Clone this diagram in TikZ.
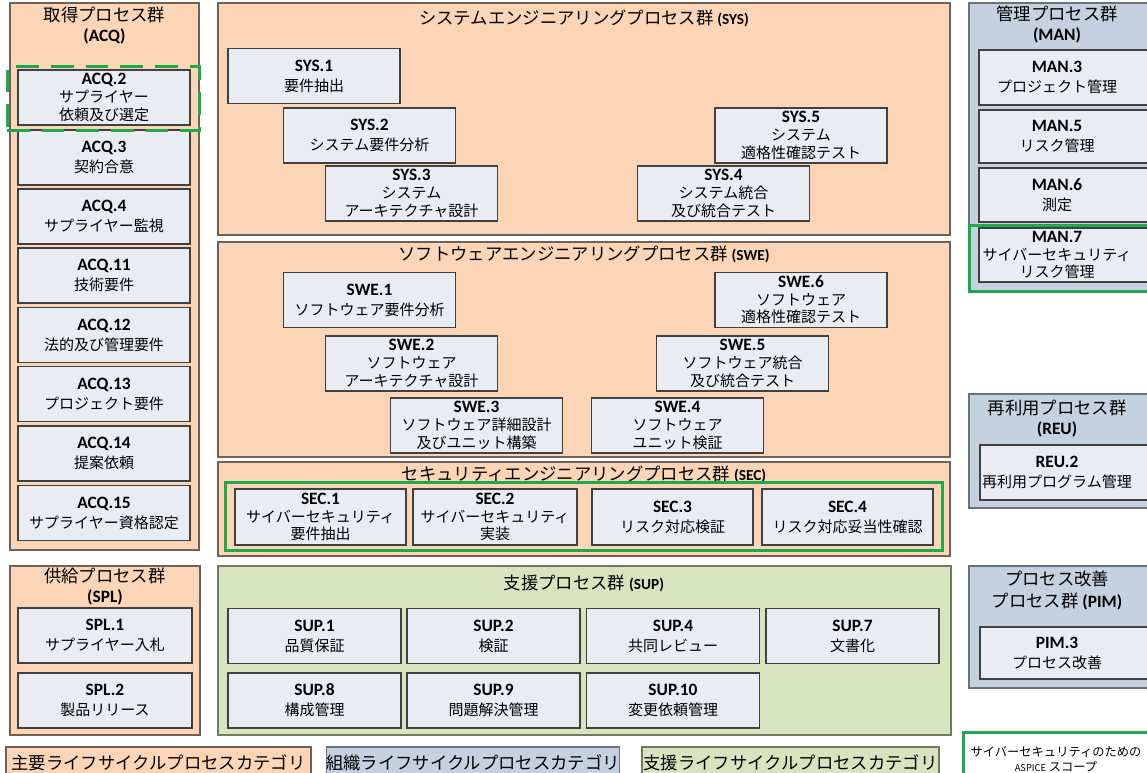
\documentclass[tikz,border=0pt]{standalone}
\usepackage{fontspec}
\setmainfont{Carlito}
\newfontfamily\jp{Noto Sans CJK JP}
\usetikzlibrary{fit}
\definecolor{peach}{HTML}{FBD5B5}
\definecolor{peachline}{HTML}{6F6158}
\definecolor{boxfill}{HTML}{E9EDF3}
\definecolor{boxline}{HTML}{404040}
\definecolor{steel}{HTML}{C4D1E1}
\definecolor{steelline}{HTML}{66737F}
\definecolor{sage}{HTML}{D8E4BE}
\definecolor{sageline}{HTML}{707A5E}
\definecolor{scope}{HTML}{1DAA4B}
\newcommand\code[1]{{\normalfont\bfseries\fontsize{13}{13}\selectfont #1}}
\newcommand\grpcode[1]{{\normalfont\bfseries\fontsize{11.5}{12}\selectfont #1}}

\begin{document}
\begin{tikzpicture}[x=0.75pt,y=-0.75pt,
	grp/.style={draw=peachline,fill=peach,line width=0.8pt,inner sep=0pt},
	orggrp/.style={grp,draw=steelline,fill=steel},
	supgrp/.style={grp,draw=sageline,fill=sage},
	proc/.style={draw=boxline,fill=boxfill,line width=0.9pt,inner sep=0pt,align=center,
		minimum width=172*0.75pt,minimum height=55*0.75pt,font=\fontsize{11.25}{15}\selectfont\jp},
	proc3/.style={proc,font=\fontsize{11.25}{13.2}\selectfont\jp},
	procr/.style={draw=boxline,fill=boxfill,line width=0.9pt,inner sep=0pt},
	txt/.style={inner sep=0pt,align=center,font=\fontsize{11.25}{15}\selectfont\jp},
	txt3/.style={txt,font=\fontsize{11.25}{13.2}\selectfont\jp},
	title/.style={inner sep=0pt,align=center,font=\fontsize{13}{15}\selectfont\jp},
	scopebox/.style={draw=scope,line width=2.25pt,inner sep=0pt},
	legend/.style={inner sep=0pt,line width=0.8pt,minimum height=31*0.75pt,font=\fontsize{13}{14}\selectfont\jp}]
	\useasboundingbox (0,0) rectangle (1147,773);

	% acquisition
	\node[grp,fit={(10,3)(199,550)}] (acq) {};
	\node[title] (acqt) at (104.5,26) {取得プロセス群\\\code{(ACQ)}};
	\node[proc3] (acq2) at (104,97.5) {\code{ACQ.2}\\サプライヤー\\依頼及び選定};
	\node[proc] (acq3) at (104,157.5) {\code{ACQ.3}\\契約合意};
	\node[proc] (acq4) at (104,216.5) {\code{ACQ.4}\\サプライヤー監視};
	\node[proc] (acq11) at (104,275.5) {\code{ACQ.11}\\技術要件};
	\node[proc] (acq12) at (104,335) {\code{ACQ.12}\\法的及び管理要件};
	\node[proc] (acq13) at (104,394) {\code{ACQ.13}\\プロジェクト要件};
	\node[proc] (acq14) at (104,453.5) {\code{ACQ.14}\\提案依頼};
	\node[proc] (acq15) at (104,513) {\code{ACQ.15}\\サプライヤー資格認定};
	\node[scopebox,dash pattern=on 17pt off 9pt,fit={(7,67)(199,131)}] (acqscope) {};

	% system engineering
	\node[grp,fit={(218,3)(950,235)}] (sys) {};
	\node[title] (syst) at (584,18) {システムエンジニアリングプロセス群 \grpcode{(SYS)}};
	\node[proc] (sys1) at (314,76) {\code{SYS.1}\\要件抽出};
	\node[proc] (sys2) at (369.5,135.5) {\code{SYS.2}\\システム要件分析};
	\node[proc3] (sys3) at (411.5,193.5) {\code{SYS.3}\\システム\\アーキテクチャ設計};
	\node[proc3] (sys4) at (723.5,193.5) {\code{SYS.4}\\システム統合\\及び統合テスト};
	\node[proc3] (sys5) at (801,135.5) {\code{SYS.5}\\システム\\適格性確認テスト};

	% software engineering
	\node[grp,fit={(218,242)(950,457)}] (swe) {};
	\node[title] (swet) at (584,254) {ソフトウェアエンジニアリングプロセス群 \grpcode{(SWE)}};
	\node[proc] (swe1) at (369.5,300) {\code{SWE.1}\\ソフトウェア要件分析};
	\node[proc3] (swe2) at (411.5,363.5) {\code{SWE.2}\\ソフトウェア\\アーキテクチャ設計};
	\node[proc3] (swe3) at (476.5,425.5) {\code{SWE.3}\\ソフトウェア詳細設計\\及びユニット構築};
	\node[proc3] (swe4) at (677.5,425.5) {\code{SWE.4}\\ソフトウェア\\ユニット検証};
	\node[proc3] (swe5) at (742.5,363.5) {\code{SWE.5}\\ソフトウェア統合\\及び統合テスト};
	\node[proc3] (swe6) at (801,300) {\code{SWE.6}\\ソフトウェア\\適格性確認テスト};

	% security engineering
	\node[grp,fit={(218,462)(950,556)}] (sec) {};
	\node[title] (sect) at (584,474) {セキュリティエンジニアリングプロセス群 \grpcode{(SEC)}};
	\node[scopebox,fit={(225,483)(942,551)}] (secscope) {};
	\node[proc3,minimum width=171*0.75pt,minimum height=56*0.75pt] (sec1) at (320.5,517) {\code{SEC.1}\\サイバーセキュリティ\\要件抽出};
	\node[proc3,minimum width=164*0.75pt,minimum height=56*0.75pt] (sec2) at (495,517) {\code{SEC.2}\\サイバーセキュリティ\\実装};
	\node[proc,minimum width=161*0.75pt,minimum height=56*0.75pt] (sec3) at (672.5,517) {\code{SEC.3}\\リスク対応検証};
	\node[proc,minimum width=171*0.75pt,minimum height=56*0.75pt] (sec4) at (847.5,517) {\code{SEC.4}\\リスク対応妥当性確認};

	% supply
	\node[grp,fit={(10,566)(200,735)}] (spl) {};
	\node[title] (splt) at (105,587) {供給プロセス群\\\code{(SPL)}};
	\node[proc,minimum width=174*0.75pt] (spl1) at (105,635.5) {\code{SPL.1}\\サプライヤー入札};
	\node[proc,minimum width=174*0.75pt] (spl2) at (105,700.5) {\code{SPL.2}\\製品リリース};

	% support
	\node[supgrp,fit={(218,566)(951,735)}] (sup) {};
	\node[title] (supt) at (584,583) {支援プロセス群 \grpcode{(SUP)}};
	\node[proc,minimum width=173*0.75pt] (sup1) at (314.5,636) {\code{SUP.1}\\品質保証};
	\node[proc,minimum width=173*0.75pt] (sup2) at (493.5,636) {\code{SUP.2}\\検証};
	\node[proc,minimum width=173*0.75pt] (sup4) at (673,636) {\code{SUP.4}\\共同レビュー};
	\node[proc,minimum width=173*0.75pt] (sup7) at (852.5,636) {\code{SUP.7}\\文書化};
	\node[proc,minimum width=173*0.75pt] (sup8) at (314.5,700.5) {\code{SUP.8}\\構成管理};
	\node[proc,minimum width=173*0.75pt] (sup9) at (493.5,700.5) {\code{SUP.9}\\問題解決管理};
	\node[proc,minimum width=173*0.75pt] (sup10) at (673,700.5) {\code{SUP.10}\\変更依頼管理};

	% management
	\node[orggrp,fit={(969,3)(1160,291)}] (man) {};
	\node[title] (mant) at (1057,24) {管理プロセス群\\\code{(MAN)}};
	\node[procr,fit={(979,50)(1160,105)}] (man3) {};
	\node[txt] (man3t) at (1057,77.5) {\code{MAN.3}\\プロジェクト管理};
	\node[procr,fit={(979,110)(1160,163)}] (man5) {};
	\node[txt] (man5t) at (1057,136.5) {\code{MAN.5}\\リスク管理};
	\node[procr,fit={(979,168)(1160,222)}] (man6) {};
	\node[txt] (man6t) at (1057,195) {\code{MAN.6}\\測定};
	\node[procr,fit={(979,228)(1160,282)}] (man7) {};
	\node[txt3] (man7t) at (1057,255) {\code{MAN.7}\\サイバーセキュリティ\\リスク管理};
	\node[scopebox,fit={(969,226)(1160,292)}] (manscope) {};

	% reuse
	\node[orggrp,fit={(969,394)(1160,508)}] (reu) {};
	\node[title] (reut) at (1057,418.5) {再利用プロセス群\\\code{(REU)}};
	\node[procr,fit={(980,445)(1160,500)}] (reu2) {};
	\node[txt] (reu2t) at (1057,472.5) {\code{REU.2}\\再利用プログラム管理};

	% process improvement
	\node[orggrp,fit={(969,566)(1160,688)}] (pim) {};
	\node[title,font=\fontsize{13}{16.5}\selectfont\jp] (pimt) at (1057,591) {プロセス改善\\プロセス群 \code{(PIM)}};
	\node[procr,fit={(980,627)(1160,679)}] (pim3) {};
	\node[txt] (pim3t) at (1057,653) {\code{PIM.3}\\プロセス改善};

	% legend
	\node[legend,draw=peachline,fill=peach,minimum width=305*0.75pt] (legprim) at (158.5,762.5) {主要ライフサイクルプロセスカテゴリ};
	\node[legend,draw=steelline,fill=steel,minimum width=290*0.75pt] (legorg) at (473,762.5) {組織ライフサイクルプロセスカテゴリ};
	\node[legend,draw=sageline,fill=sage,minimum width=297*0.75pt] (legsup) at (790.5,762.5) {支援ライフサイクルプロセスカテゴリ};
	\node[scopebox,fill=white,fit={(963,732)(1160,790)}] (legscope) {};
	\node[inner sep=0pt,align=center,font=\fontsize{9.2}{11.25}\selectfont\jp] (legscopet) at (1056,759.5) {サイバーセキュリティのための\\{\fontsize{7}{8}\selectfont ASPICE} スコープ};
\end{tikzpicture}
\end{document}
